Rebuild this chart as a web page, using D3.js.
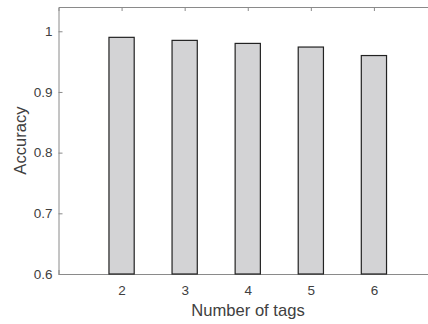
<!DOCTYPE html>
<html>
<head>
<meta charset="utf-8">
<script src="https://cdn.jsdelivr.net/npm/d3@7"></script>
<style>
  body { margin: 0; background: #fff; }
  svg { display: block; font-family: "Liberation Sans", Arial, sans-serif; }
</style>
</head>
<body>
<svg id="chart" width="428" height="324"></svg>
<script>
// data
var tags = [2, 3, 4, 5, 6];
var accuracy = [0.990, 0.985, 0.980, 0.974, 0.960];
var yTicks = [0.6, 0.7, 0.8, 0.9, 1];

var margin = {top: 7, left: 58.5, bottom: 50, right: -9};
var W = 428, H = 324;

var svg = d3.select('#chart');

var x = d3.scaleLinear()
  .domain([1, 7])
  .range([margin.left, W - margin.right]);
var y = d3.scaleLinear()
  .domain([0.6, 1.04])
  .range([H - margin.bottom, margin.top]);

var axisCol = '#8a8a8a';
var textCol = '#404040';
var barW = x(1.4) - x(1);

// left axis
var gy = svg.append('g')
  .attr('transform', 'translate(' + margin.left + ',0)')
  .call(d3.axisLeft(y).tickValues(yTicks).tickSize(-4).tickPadding(6).tickFormat(d3.format('')));

// bottom axis
var gx = svg.append('g')
  .attr('transform', 'translate(0,' + y(0.6) + ')')
  .call(d3.axisBottom(x).tickValues(tags).tickSize(-4).tickPadding(11).tickFormat(d3.format('d')));

// top axis (mirror ticks, no labels)
var gt = svg.append('g')
  .attr('transform', 'translate(0,' + y(1.04) + ')')
  .call(d3.axisTop(x).tickValues(tags).tickSize(-4).tickFormat(''));

[gy, gx, gt].forEach(function(g) {
  g.select('.domain').attr('stroke', axisCol).attr('stroke-width', 1);
  g.selectAll('.tick line').attr('stroke', axisCol);
  g.selectAll('.tick text').attr('fill', textCol).style('font-size', '13.5px');
});

// bars (on top of the bottom ticks)
svg.selectAll('rect.bar')
  .data(tags)
  .enter()
  .append('rect')
    .attr('class', 'bar')
    .attr('x', function(d) { return x(d) - barW / 2; })
    .attr('y', function(d, i) { return y(accuracy[i]); })
    .attr('width', barW)
    .attr('height', function(d, i) { return y(0.6) - y(accuracy[i]); })
    .attr('fill', '#d3d3d5')
    .attr('stroke', '#222')
    .attr('stroke-width', 1.2);

// axis titles
svg.append('text')
  .attr('x', 248)
  .attr('y', 316)
  .attr('text-anchor', 'middle')
  .attr('fill', textCol)
  .style('font-size', '16.6px')
  .text('Number of tags');

svg.append('text')
  .attr('transform', 'translate(26,' + ((y(0.6) + y(1.04)) / 2) + ') rotate(-90)')
  .attr('text-anchor', 'middle')
  .attr('fill', textCol)
  .style('font-size', '16.6px')
  .text('Accuracy');
</script>
</body>
</html>
